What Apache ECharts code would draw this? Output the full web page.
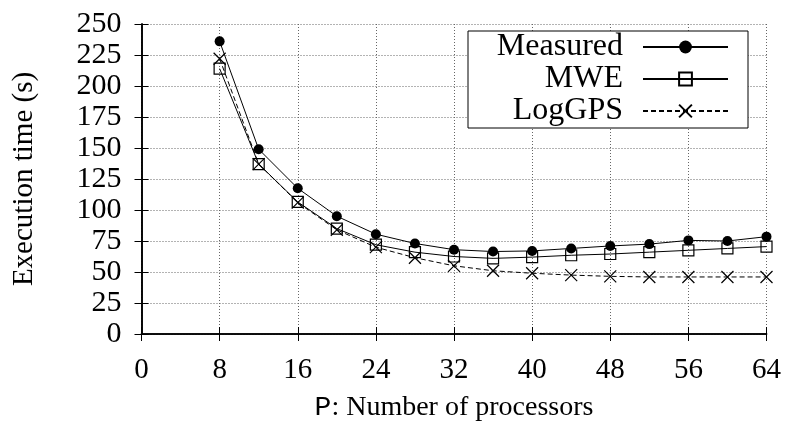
<!DOCTYPE html>
<html>
<head>
<meta charset="utf-8">
<script src="https://cdn.jsdelivr.net/npm/echarts@6/dist/echarts.min.js"></script>
<style>html,body{margin:0;padding:0;background:#fff;}#c{width:787px;height:423px;}</style>
</head>
<body>
<div id="c"></div>
<script>
const processors = [8, 12, 16, 20, 24, 28, 32, 36, 40, 44, 48, 52, 56, 60, 64];
const measured = [236, 149, 117.5, 95, 80.5, 73, 68, 66.5, 67, 69, 71, 72.5, 75.5, 75, 78.5];
const mwe = [214, 137, 106.5, 85, 72, 66, 62.5, 61, 62, 63.5, 64.5, 66, 67.5, 69, 70.5];
const loggps = [222, 137, 106, 84, 70, 61.5, 55, 51, 49, 47.5, 46.5, 46, 46, 46, 46];
const xTicks = { min: 0, max: 64, interval: 8 };
const yTicks = { min: 0, max: 250, interval: 25 };

const serif = 'Liberation Serif';
const chart = echarts.init(document.getElementById('c'), null, { renderer: 'canvas' });
const pair = (ys) => processors.map((x, i) => [x, ys[i]]);
const crossPath = 'path://M0,0L10,10M10,0L0,10';

const axisLineStyle = { show: true, lineStyle: { color: '#000', width: 1.6 } };
const tickStyle = { show: true, inside: true, length: 7, lineStyle: { color: '#000', width: 1 } };
const gridLine = { show: true, lineStyle: { color: '#666', width: 1, type: [1, 2] } };

chart.setOption({
  animation: false,
  backgroundColor: '#fff',
  textStyle: { fontFamily: serif },
  grid: { left: 141.5, right: 20.5, top: 24, bottom: 89, containLabel: false, outerBoundsMode: 'none' },
  legend: {
    orient: 'vertical',
    left: 468,
    top: 31,
    align: 'right',
    data: ['Measured', 'MWE', 'LogGPS'],
    itemWidth: 85,
    itemHeight: 16,
    itemGap: 0,
    padding: [0, 19, 1, 10],
    backgroundColor: '#fff',
    borderColor: '#000',
    borderWidth: 1,
    borderRadius: 0,
    textStyle: { fontFamily: serif, fontSize: 32, color: '#000', width: 145, align: 'right', lineHeight: 32, padding: [0, 15, 0, 0] }
  },
  xAxis: [
    {
      type: 'value', position: 'bottom', min: xTicks.min, max: xTicks.max, interval: xTicks.interval,
      axisLine: axisLineStyle, axisTick: tickStyle, splitLine: gridLine,
      axisLabel: { fontFamily: serif, fontSize: 29, color: '#000', margin: 22 },
      name: '{m|P}: Number of processors', nameLocation: 'middle', nameGap: 60,
      nameTextStyle: { fontFamily: serif, fontSize: 28, color: '#000',
        rich: { m: { fontFamily: 'Liberation Mono', fontSize: 28, color: '#000' } } }
    },
    {
      type: 'value', position: 'top', min: xTicks.min, max: xTicks.max, interval: xTicks.interval,
      axisLine: axisLineStyle, axisTick: tickStyle, splitLine: { show: false }, axisLabel: { show: false }
    }
  ],
  yAxis: [
    {
      type: 'value', position: 'left', min: yTicks.min, max: yTicks.max, interval: yTicks.interval,
      axisLine: axisLineStyle, axisTick: tickStyle, splitLine: gridLine,
      axisLabel: { fontFamily: serif, fontSize: 30, color: '#000', margin: 20 },
      name: 'Execution time (s)', nameLocation: 'middle', nameGap: 103, nameRotate: 90,
      nameTextStyle: { fontFamily: serif, fontSize: 29, color: '#000' }
    },
    {
      type: 'value', position: 'right', min: yTicks.min, max: yTicks.max, interval: yTicks.interval,
      axisLine: axisLineStyle, axisTick: tickStyle, splitLine: { show: false }, axisLabel: { show: false }
    }
  ],
  series: [
    {
      name: 'LogGPS', type: 'line', data: pair(loggps), z: 3,
      symbol: crossPath, symbolSize: 12,
      lineStyle: { color: '#000', width: 1, type: [5, 3] },
      itemStyle: { color: '#000', borderColor: '#000', borderWidth: 1.2 }
    },
    {
      name: 'MWE', type: 'line', data: pair(mwe), z: 4,
      symbol: 'rect', symbolSize: 11,
      lineStyle: { color: '#000', width: 1 },
      itemStyle: { color: 'rgba(0,0,0,0)', borderColor: '#000', borderWidth: 1.2 }
    },
    {
      name: 'Measured', type: 'line', data: pair(measured), z: 5,
      symbol: 'circle', symbolSize: 10,
      lineStyle: { color: '#000', width: 1 },
      itemStyle: { color: '#000', borderColor: '#000', borderWidth: 0 }
    }
  ]
});
</script>
</body>
</html>
